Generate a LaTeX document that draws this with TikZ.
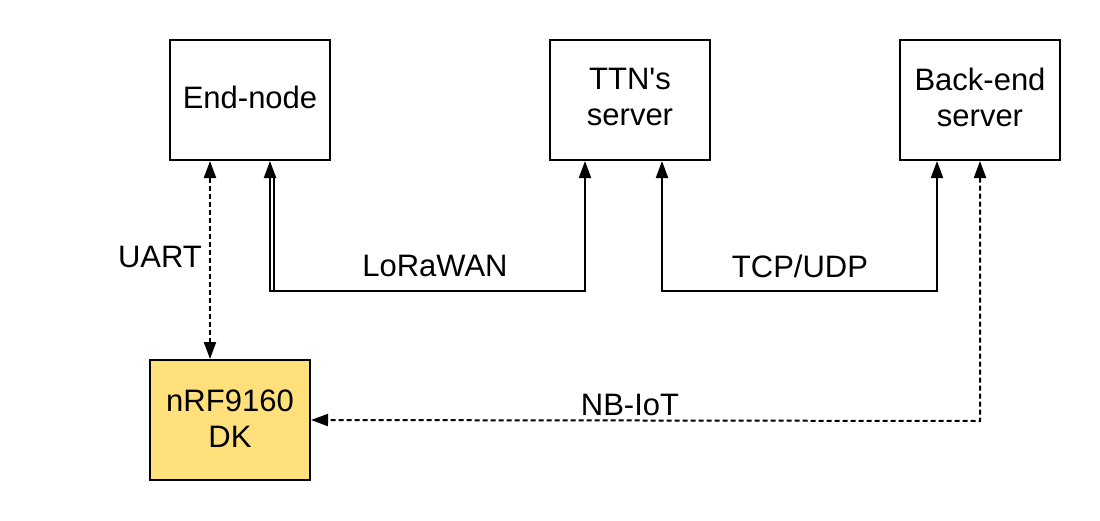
\documentclass[tikz,border=0pt]{standalone}
\usepackage{fontspec}
\setmainfont{Liberation Sans}
\newfontfamily\plainsans{Liberation Sans}
\usetikzlibrary{arrows.meta,calc}
\definecolor{dkyellow}{HTML}{FFE07A}
\begin{document}
\begin{tikzpicture}[x=1pt,y=-1pt,
  box/.style={draw=black,line width=2pt,minimum width=160pt,minimum height=120pt,inner sep=0pt},
  boxtext/.style={align=center,inner sep=0pt,font=\fontsize{31}{36}\selectfont},
  tip/.tip={Triangle[length=17pt,width=12pt]},
  conn/.style={line width=2pt,tip-tip},
  dashline/.style={dash pattern=on 5pt off 3pt},
  lbl/.style={font=\fontsize{31}{36}\selectfont,inner sep=0pt}]
\useasboundingbox[fill=white] (0,0) rectangle (1100,520);
\node[box,fill=white] (endnode) at (250,100) {};
\node[box,fill=white] (ttn) at (630,100) {};
\node[box,fill=white] (backend) at (980,100) {};
\node[box,fill=dkyellow] (nrf) at (230,420) {};
\node[boxtext] (tendnode) at ($(endnode.center)+(0,-3)$) {End-node};
\node[boxtext] (tttn) at ($(ttn.center)+(0,-3)$) {TTN{\plainsans\fontsize{31}{36}\selectfont '}s\\server};
\node[boxtext] (tbackend) at ($(backend.center)+(0,-3)$) {Back-end\\server};
\node[boxtext] (tnrf) at ($(nrf.center)+(0,-1)$) {nRF9160\\DK};
% UART
\draw[conn,dashline] ([xshift=-40pt]endnode.south) -- ([xshift=-20pt]nrf.north);
% LoRaWAN
\draw[conn] ([xshift=-45pt]ttn.south) -- ++(0,130) -| ([xshift=20pt]endnode.south);
\draw[line width=2pt] ([xshift=24pt]endnode.south) ++(0,14) -- ++(0,116);
% TCP/UDP
\draw[conn] ([xshift=32pt]ttn.south) -- ++(0,130) -| ([xshift=-43pt]backend.south);
% NB-IoT
\draw[conn,dashline] (backend.south) -- ++(0,260) -- (nrf.east);
% labels
\node[lbl] (luart) at (160,257) {UART};
\node[lbl] (llora) at (435,266) {LoRaWAN};
\node[lbl] (ltcp) at (800,266) {TCP/UDP};
\node[lbl] (lnb) at (630,405) {NB-IoT};
\end{tikzpicture}
\end{document}
